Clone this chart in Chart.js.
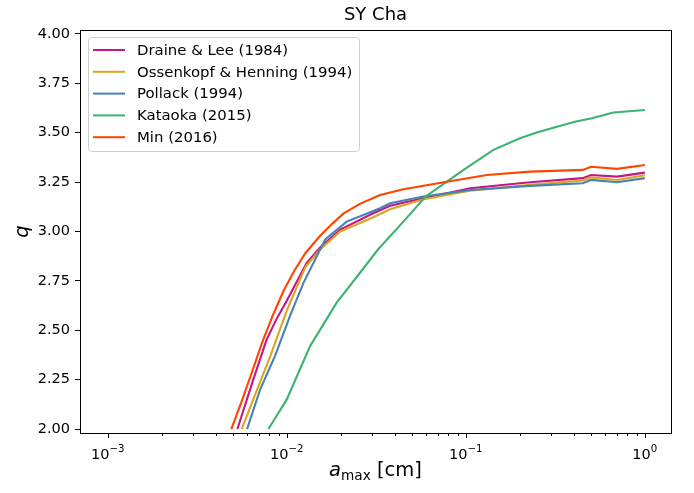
<!DOCTYPE html>
<html>
<head>
<meta charset="utf-8">
<script src="https://cdn.jsdelivr.net/npm/chart.js@4"></script>
<style>
  html, body { margin: 0; padding: 0; background: #fff; }
  #wrap { width: 694px; height: 493px; }
</style>
</head>
<body>
<div id="wrap"><canvas id="chart" width="694" height="493"></canvas></div>
<script>
// grain size a_max [cm] and slope q, one pair of arrays per opacity model
const draineX = [0.0053, 0.0065, 0.0077, 0.0088, 0.0100, 0.0129, 0.0154, 0.0199, 0.030, 0.0378, 0.058, 0.1057, 0.2286, 0.45, 0.5, 0.7, 1.0];
const draineQ = [2.00, 2.25, 2.45, 2.56, 2.65, 2.84, 2.92, 3.01, 3.09, 3.13, 3.168, 3.219, 3.249, 3.27, 3.286, 3.278, 3.298];

const ossX = [0.0056, 0.0067, 0.0081, 0.0100, 0.0127, 0.0154, 0.0199, 0.030, 0.0378, 0.058, 0.1057, 0.2286, 0.45, 0.5, 0.7, 1.0];
const ossQ = [2.00, 2.18, 2.37, 2.60, 2.82, 2.91, 3.00, 3.07, 3.113, 3.163, 3.206, 3.236, 3.258, 3.274, 3.261, 3.285];

const pollackX = [0.0060, 0.0071, 0.0086, 0.0104, 0.0124, 0.0164, 0.0216, 0.0268, 0.0332, 0.0378, 0.058, 0.1057, 0.2286, 0.45, 0.5, 0.7, 1.0];
const pollackQ = [2.00, 2.20, 2.37, 2.57, 2.74, 2.96, 3.05, 3.084, 3.118, 3.143, 3.177, 3.21, 3.231, 3.244, 3.261, 3.249, 3.27];

const kataokaX = [0.0079, 0.0100, 0.0135, 0.0190, 0.0256, 0.0324, 0.0448, 0.0596, 0.0784, 0.1, 0.1426, 0.201, 0.249, 0.3155, 0.407, 0.506, 0.667, 1.0];
const kataokaQ = [2.00, 2.15, 2.42, 2.64, 2.79, 2.91, 3.05, 3.177, 3.252, 3.32, 3.413, 3.472, 3.501, 3.528, 3.556, 3.573, 3.602, 3.615];

const minX = [0.0049, 0.0056, 0.0064, 0.0073, 0.0084, 0.0096, 0.0110, 0.0127, 0.0154, 0.0180, 0.0207, 0.0256, 0.0332, 0.0448, 0.0784, 0.131, 0.2286, 0.45, 0.5, 0.7, 1.0];
const minQ = [2.00, 2.14, 2.29, 2.44, 2.58, 2.70, 2.80, 2.89, 2.98, 3.04, 3.09, 3.14, 3.185, 3.214, 3.252, 3.286, 3.303, 3.312, 3.328, 3.317, 3.337];

const labels = ['Draine & Lee (1984)', 'Ossenkopf & Henning (1994)', 'Pollack (1994)', 'Kataoka (2015)', 'Min (2016)'];
const colors = ['#c71585', '#daa520', '#4682b4', '#3cb371', '#ff4500'];

const yTicks = [2.00, 2.25, 2.50, 2.75, 3.00, 3.25, 3.50, 3.75, 4.00];
const xDecades = [-3, -2, -1, 0];

const FONT = '"DejaVu Sans", sans-serif';

function pts(xs, ys) {
  return xs.map((x, i) => ({ x: x, y: ys[i] }));
}

const series = [[draineX, draineQ], [ossX, ossQ], [pollackX, pollackQ], [kataokaX, kataokaQ], [minX, minQ]];

const datasets = series.map((s, i) => ({
  label: labels[i],
  data: pts(s[0], s[1]),
  borderColor: colors[i],
  backgroundColor: colors[i],
  borderWidth: 2.1,
  pointRadius: 0,
  tension: 0,
  order: series.length - 1 - i
}));

// matplotlib-like decorations: frame, x ticks, legend, titles
const decor = {
  id: 'decor',
  afterDraw(chart) {
    const ctx = chart.ctx;
    const a = chart.chartArea;
    const xs = chart.scales.x;
    ctx.save();
    ctx.strokeStyle = '#000';
    ctx.fillStyle = '#000';

    // x ticks (major + minor)
    ctx.lineWidth = 1;
    xDecades.forEach(d => {
      for (let k = 1; k <= 9; k++) {
        const v = k * Math.pow(10, d);
        if (v < xs.min || v > xs.max) continue;
        const px = Math.round(xs.getPixelForValue(v)) + 0.5;
        ctx.beginPath();
        ctx.moveTo(px, a.bottom);
        ctx.lineTo(px, a.bottom + (k === 1 ? 5 : 3));
        ctx.stroke();
      }
      const px = xs.getPixelForValue(Math.pow(10, d));
      const base = '10';
      const exp = d === 0 ? '0' : '\u2212' + Math.abs(d);
      ctx.font = '14.5px ' + FONT;
      const w1 = ctx.measureText(base).width;
      ctx.font = '10.2px ' + FONT;
      const w2 = ctx.measureText(exp).width;
      const x0 = px - (w1 + w2) / 2;
      ctx.textAlign = 'left';
      ctx.textBaseline = 'alphabetic';
      ctx.font = '14.5px ' + FONT;
      ctx.fillText(base, x0, 459);
      ctx.font = '10.2px ' + FONT;
      ctx.fillText(exp, x0 + w1, 452);
    });

    // frame
    ctx.lineWidth = 1;
    ctx.strokeRect(Math.round(a.left) + 0.5, Math.round(a.top) + 0.5,
      Math.round(a.right - a.left), Math.round(a.bottom - a.top));

    // legend
    const lx = 88.5, ly = 37.5, lw = 271, lh = 114;
    ctx.beginPath();
    ctx.roundRect(lx, ly, lw, lh, 3);
    ctx.fillStyle = 'rgba(255,255,255,0.8)';
    ctx.fill();
    ctx.strokeStyle = '#cccccc';
    ctx.stroke();
    ctx.font = '14.9px ' + FONT;
    ctx.textBaseline = 'middle';
    chart.data.datasets.forEach((ds, i) => {
      const y = 50 + i * 21.8;
      ctx.strokeStyle = ds.borderColor;
      ctx.lineWidth = 2;
      ctx.beginPath();
      ctx.moveTo(93, y);
      ctx.lineTo(125, y);
      ctx.stroke();
      ctx.fillStyle = '#000';
      ctx.fillText(ds.label, 137, y + 1);
    });

    // title
    ctx.textAlign = 'center';
    ctx.textBaseline = 'alphabetic';
    ctx.font = '18px ' + FONT;
    ctx.fillText('SY Cha', (a.left + a.right) / 2, 20);

    // x axis label: a_max [cm]
    const fs = 19.5;
    ctx.font = 'italic ' + fs + 'px ' + FONT;
    const wa = ctx.measureText('a').width;
    ctx.font = (fs * 0.7) + 'px ' + FONT;
    const wm = ctx.measureText('max').width;
    ctx.font = fs + 'px ' + FONT;
    const wc = ctx.measureText(' [cm]').width;
    const x0 = (a.left + a.right) / 2 - (wa + wm + wc) / 2;
    ctx.textAlign = 'left';
    ctx.font = 'italic ' + fs + 'px ' + FONT;
    ctx.fillText('a', x0, 476);
    ctx.font = (fs * 0.7) + 'px ' + FONT;
    ctx.fillText('max', x0 + wa, 480);
    ctx.font = fs + 'px ' + FONT;
    ctx.fillText(' [cm]', x0 + wa + wm, 476);

    // y axis label
    ctx.save();
    ctx.translate(28, (a.top + a.bottom) / 2);
    ctx.rotate(-Math.PI / 2);
    ctx.textAlign = 'center';
    ctx.font = 'italic ' + fs + 'px ' + FONT;
    ctx.fillText('q', 0, 0);
    ctx.restore();

    ctx.restore();
  }
};

new Chart(document.getElementById('chart'), {
  type: 'line',
  data: { datasets: datasets },
  options: {
    responsive: false,
    animation: false,
    layout: { padding: { top: 30, right: 23, left: 0, bottom: 0 } },
    plugins: {
      legend: { display: false },
      title: { display: false },
      tooltip: { enabled: false }
    },
    scales: {
      x: {
        type: 'logarithmic',
        min: 7e-4,
        max: 1.4,
        ticks: { display: false },
        grid: { display: false },
        border: { display: false },
        afterFit: s => { s.height = 60; }
      },
      y: {
        min: 1.98,
        max: 4.02,
        afterBuildTicks: s => { s.ticks = yTicks.map(v => ({ value: v })); },
        afterFit: s => { s.width = 80; },
        ticks: {
          color: '#000',
          padding: 5,
          font: { family: FONT, size: 14.5 },
          callback: v => Number(v).toFixed(2)
        },
        grid: {
          drawOnChartArea: false,
          drawTicks: true,
          tickLength: 5,
          tickColor: '#000',
          color: '#000'
        },
        border: { display: false }
      }
    }
  },
  plugins: [decor]
});
</script>
</body>
</html>
